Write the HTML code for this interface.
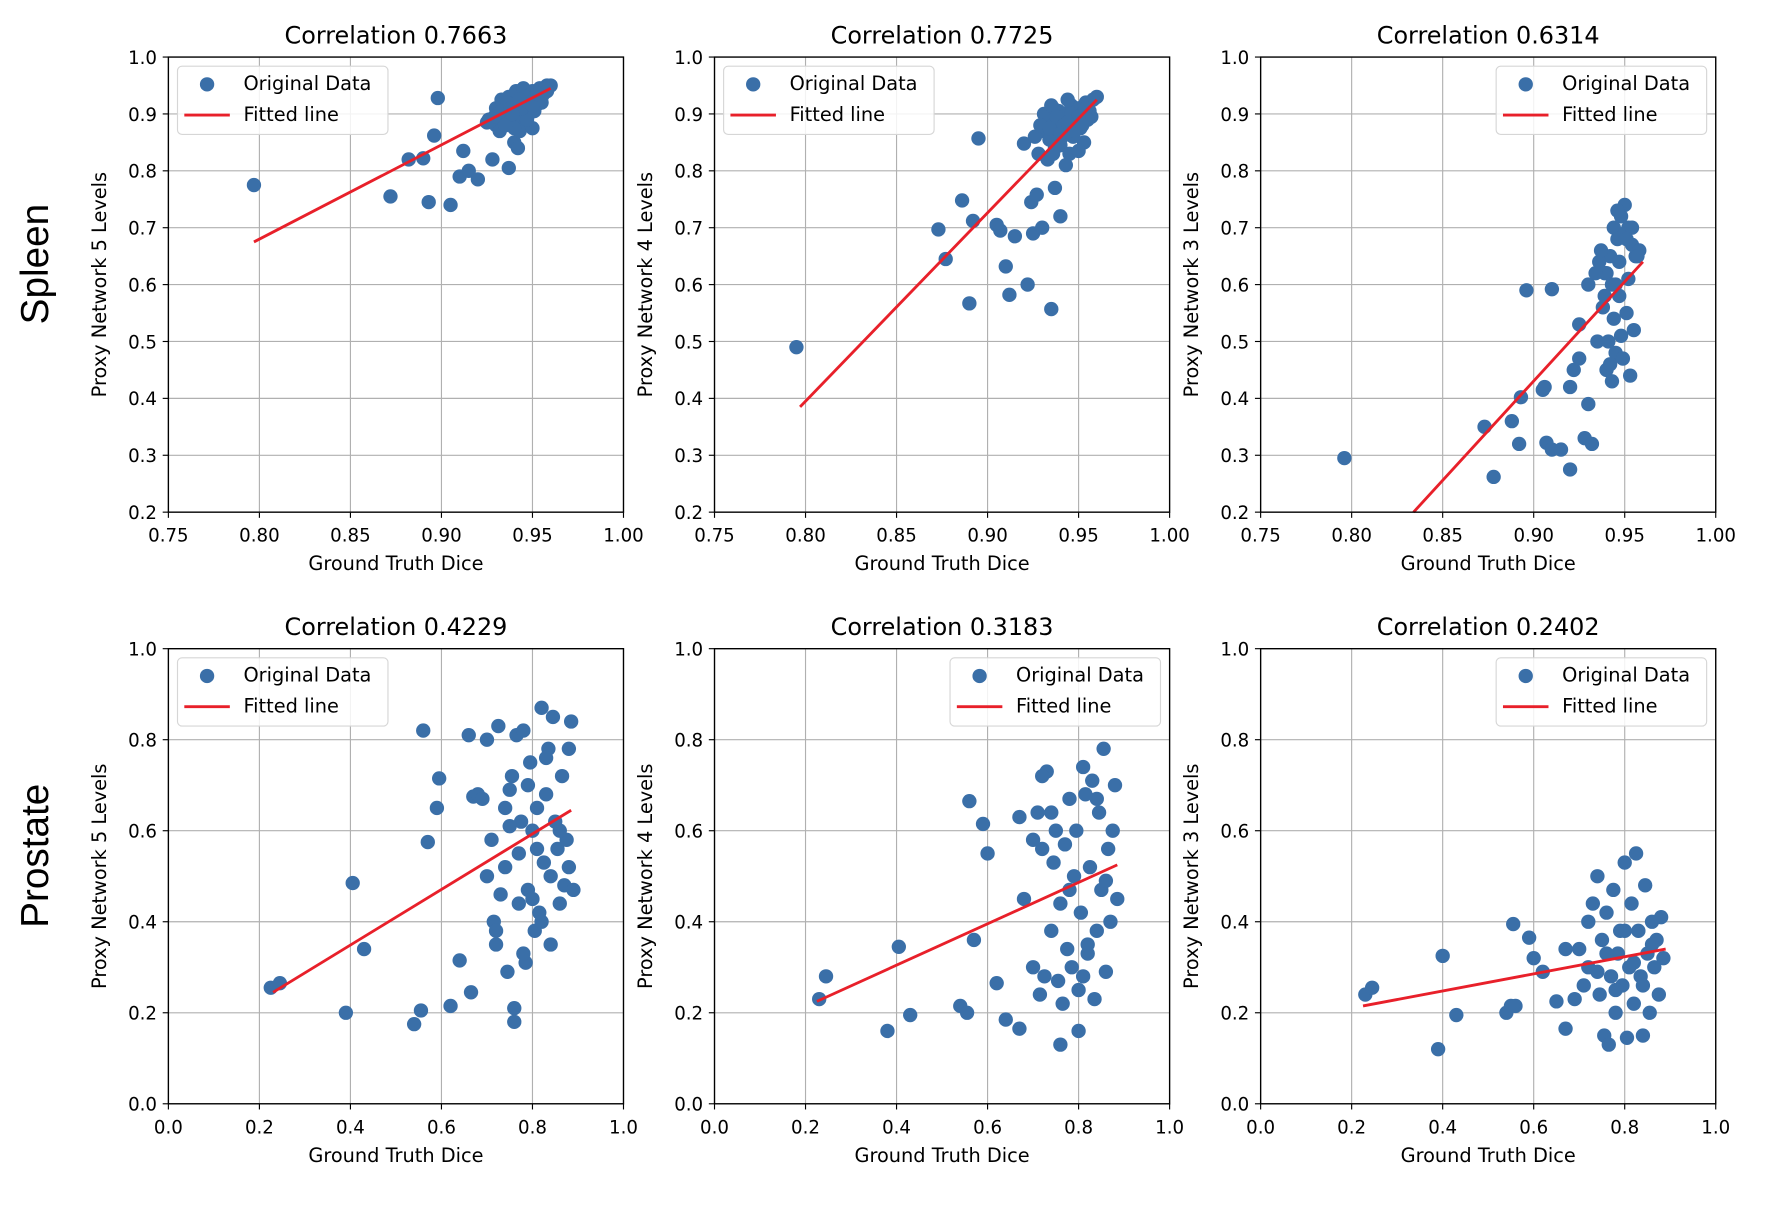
<!DOCTYPE html>
<html><head><meta charset="utf-8">
<style>
html,body{margin:0;padding:0;background:#fff;}
svg{display:block;font-family:"DejaVu Sans","Liberation Sans",sans-serif;}
</style></head>
<body>
<svg id="fig" width="1784" height="1220" viewBox="0 0 1568 1072" xmlns="http://www.w3.org/2000/svg">
<text x="0" y="0" transform="translate(42,232) rotate(-90)" font-size="34" text-anchor="middle" font-family="Liberation Sans, sans-serif">Spleen</text>
<text x="0" y="0" transform="translate(42,752) rotate(-90)" font-size="34" text-anchor="middle" font-family="Liberation Sans, sans-serif">Prostate</text>
</svg>
<script>
// ---- data ----
const titles = ["Correlation 0.7663","Correlation 0.7725","Correlation 0.6314","Correlation 0.4229","Correlation 0.3183","Correlation 0.2402"];
const yLabels = ["Proxy Network 5 Levels","Proxy Network 4 Levels","Proxy Network 3 Levels","Proxy Network 5 Levels","Proxy Network 4 Levels","Proxy Network 3 Levels"];
const spleenXTicks = ["0.75","0.80","0.85","0.90","0.95","1.00"];
const spleenYTicks = ["0.2","0.3","0.4","0.5","0.6","0.7","0.8","0.9","1.0"];
const prosXTicks = ["0.0","0.2","0.4","0.6","0.8","1.0"];
const prosYTicks = ["0.0","0.2","0.4","0.6","0.8","1.0"];
const legendRight = [false,false,true,false,true,true];

const p1x=[0.797,0.872,0.882,0.890,0.893,0.896,0.898,0.905,0.910,0.912,0.915,0.920,0.925,0.926,0.928,0.930,0.932,0.934,0.935,0.937,0.940,0.942,0.943,0.945,0.948,0.950,0.930,0.933,0.936,0.938,0.940,0.942,0.944,0.946,0.948,0.950,0.952,0.954,0.956,0.958,0.960,0.934,0.939,0.943,0.947,0.951,0.955,0.937,0.941,0.945,0.949,0.953,0.957,0.931,0.944,0.952,0.958,0.936,0.946,0.954,0.929,0.933,0.938,0.942,0.947,0.951,0.955,0.940,0.944,0.948,0.935,0.950,0.953,0.939,0.943];
const p1y=[0.775,0.755,0.820,0.822,0.745,0.862,0.928,0.740,0.790,0.835,0.800,0.785,0.885,0.890,0.820,0.880,0.870,0.905,0.895,0.805,0.850,0.840,0.870,0.880,0.900,0.875,0.910,0.925,0.900,0.915,0.930,0.905,0.920,0.935,0.925,0.940,0.930,0.945,0.935,0.950,0.950,0.890,0.885,0.915,0.910,0.925,0.920,0.930,0.940,0.945,0.935,0.940,0.945,0.900,0.895,0.915,0.940,0.920,0.930,0.925,0.895,0.905,0.910,0.900,0.890,0.905,0.930,0.875,0.910,0.920,0.880,0.915,0.935,0.900,0.925];
const p1fit=[[0.797,0.675],[0.960,0.945]];

const p2x=[0.795,0.873,0.877,0.886,0.890,0.892,0.895,0.905,0.907,0.910,0.912,0.915,0.920,0.922,0.924,0.925,0.927,0.930,0.935,0.937,0.940,0.928,0.930,0.932,0.934,0.936,0.938,0.940,0.942,0.944,0.946,0.948,0.950,0.952,0.954,0.956,0.958,0.960,0.933,0.937,0.941,0.945,0.949,0.953,0.957,0.931,0.939,0.947,0.955,0.943,0.951,0.935,0.926,0.944,0.950,0.929,0.934,0.938,0.942,0.946,0.950,0.954,0.940,0.944,0.948,0.936,0.952];
const p2y=[0.490,0.697,0.645,0.748,0.567,0.712,0.857,0.705,0.695,0.632,0.582,0.685,0.848,0.600,0.745,0.690,0.758,0.700,0.557,0.770,0.720,0.830,0.870,0.890,0.855,0.910,0.880,0.845,0.900,0.870,0.915,0.890,0.910,0.900,0.920,0.905,0.925,0.930,0.820,0.840,0.860,0.830,0.880,0.850,0.895,0.900,0.905,0.860,0.890,0.810,0.875,0.915,0.860,0.925,0.835,0.880,0.875,0.895,0.880,0.900,0.895,0.910,0.865,0.885,0.870,0.830,0.880];
const p2fit=[[0.797,0.385],[0.960,0.925]];

const p3x=[0.796,0.873,0.878,0.888,0.892,0.893,0.896,0.905,0.906,0.907,0.910,0.910,0.915,0.920,0.920,0.922,0.925,0.928,0.930,0.932,0.925,0.930,0.935,0.940,0.938,0.940,0.942,0.944,0.946,0.948,0.950,0.952,0.954,0.956,0.958,0.936,0.939,0.943,0.947,0.951,0.955,0.941,0.945,0.949,0.953,0.937,0.946,0.950,0.952,0.944,0.948,0.942,0.954,0.934,0.939,0.947,0.951,0.945,0.943,0.957];
const p3y=[0.295,0.350,0.262,0.360,0.320,0.402,0.590,0.415,0.420,0.322,0.310,0.592,0.310,0.275,0.420,0.450,0.470,0.330,0.390,0.320,0.530,0.600,0.500,0.450,0.560,0.620,0.650,0.700,0.680,0.720,0.740,0.700,0.670,0.650,0.660,0.640,0.620,0.600,0.580,0.550,0.520,0.500,0.480,0.470,0.440,0.660,0.730,0.690,0.610,0.540,0.510,0.460,0.700,0.620,0.580,0.640,0.680,0.600,0.430,0.650];
const p3fit=[[0.834,0.200],[0.960,0.640]];

const p4x=[0.225,0.245,0.390,0.405,0.430,0.540,0.555,0.560,0.570,0.590,0.595,0.620,0.640,0.660,0.665,0.670,0.680,0.690,0.700,0.710,0.715,0.720,0.725,0.730,0.740,0.745,0.750,0.755,0.760,0.765,0.770,0.775,0.780,0.785,0.790,0.795,0.800,0.805,0.810,0.815,0.820,0.825,0.830,0.835,0.840,0.845,0.850,0.855,0.860,0.865,0.870,0.875,0.880,0.885,0.890,0.720,0.750,0.790,0.810,0.830,0.770,0.740,0.860,0.800,0.760,0.700,0.840,0.880,0.780,0.820];
const p4y=[0.255,0.265,0.200,0.485,0.340,0.175,0.205,0.820,0.575,0.650,0.715,0.215,0.315,0.810,0.245,0.675,0.680,0.670,0.800,0.580,0.400,0.350,0.830,0.460,0.520,0.290,0.690,0.720,0.180,0.810,0.550,0.620,0.820,0.310,0.470,0.750,0.600,0.380,0.650,0.420,0.870,0.530,0.680,0.780,0.500,0.850,0.620,0.560,0.440,0.720,0.480,0.580,0.780,0.840,0.470,0.380,0.610,0.700,0.560,0.760,0.440,0.650,0.600,0.450,0.210,0.500,0.350,0.520,0.330,0.400];
const p4fit=[[0.230,0.245],[0.885,0.645]];

const p5x=[0.230,0.245,0.380,0.405,0.430,0.540,0.555,0.560,0.570,0.590,0.600,0.620,0.640,0.670,0.670,0.680,0.700,0.710,0.715,0.720,0.725,0.730,0.740,0.745,0.750,0.755,0.760,0.765,0.770,0.775,0.780,0.785,0.790,0.795,0.800,0.805,0.810,0.815,0.820,0.825,0.830,0.835,0.840,0.845,0.850,0.855,0.860,0.865,0.870,0.875,0.880,0.885,0.720,0.760,0.800,0.840,0.780,0.820,0.860,0.740,0.700,0.810];
const p5y=[0.230,0.280,0.160,0.345,0.195,0.215,0.200,0.665,0.360,0.615,0.550,0.265,0.185,0.165,0.630,0.450,0.300,0.640,0.240,0.560,0.280,0.730,0.380,0.530,0.600,0.270,0.440,0.220,0.570,0.340,0.670,0.300,0.500,0.600,0.160,0.420,0.280,0.680,0.350,0.520,0.710,0.230,0.380,0.640,0.470,0.780,0.290,0.560,0.400,0.600,0.700,0.450,0.720,0.130,0.250,0.670,0.470,0.330,0.490,0.640,0.580,0.740];
const p5fit=[[0.225,0.225],[0.885,0.525]];

const p6x=[0.230,0.245,0.390,0.400,0.430,0.540,0.550,0.555,0.560,0.590,0.600,0.620,0.650,0.670,0.670,0.690,0.700,0.710,0.720,0.730,0.740,0.745,0.750,0.755,0.760,0.765,0.770,0.775,0.780,0.785,0.790,0.795,0.800,0.805,0.810,0.815,0.820,0.825,0.830,0.835,0.840,0.845,0.850,0.855,0.860,0.865,0.870,0.875,0.880,0.885,0.760,0.800,0.840,0.720,0.780,0.820,0.860,0.740];
const p6y=[0.240,0.255,0.120,0.325,0.195,0.200,0.215,0.395,0.215,0.365,0.320,0.290,0.225,0.165,0.340,0.230,0.340,0.260,0.300,0.440,0.500,0.240,0.360,0.150,0.420,0.130,0.280,0.470,0.200,0.330,0.380,0.260,0.530,0.145,0.300,0.440,0.220,0.550,0.380,0.280,0.150,0.480,0.330,0.200,0.400,0.300,0.360,0.240,0.410,0.320,0.330,0.380,0.260,0.400,0.250,0.310,0.350,0.290];
const p6fit=[[0.225,0.215],[0.890,0.340]];

const allX=[p1x,p2x,p3x,p4x,p5x,p6x];
const allY=[p1y,p2y,p3y,p4y,p5y,p6y];
const allFit=[p1fit,p2fit,p3fit,p4fit,p5fit,p6fit];

// ---- drawing ----
const NS="http://www.w3.org/2000/svg";
const svg=document.getElementById('fig');
function mk(tag,attrs,parent){const e=document.createElementNS(NS,tag);for(const k in attrs)e.setAttribute(k,attrs[k]);(parent||svg).appendChild(e);return e;}
const lefts=[148,628,1108], tops=[50,570], W=400, H=400;

for(let i=0;i<6;i++){
  const L=lefts[i%3], T=tops[Math.floor(i/3)];
  const spleen=i<3;
  const xmin=spleen?0.75:0, xmax=1, ymin=spleen?0.2:0, ymax=1;
  const xT=spleen?spleenXTicks:prosXTicks, yT=spleen?spleenYTicks:prosYTicks;
  const sx=v=>L+(v-xmin)/(xmax-xmin)*W;
  const sy=v=>T+H-(v-ymin)/(ymax-ymin)*H;
  const g=mk('g',{});
  
  
  xT.forEach(t=>{const x=sx(parseFloat(t));
    const l=mk('line',{x1:x,x2:x,y1:T,y2:T+H,stroke:'#b0b0b0','stroke-width':1},g);
    
    
    const tk=mk('line',{x1:x,x2:x,y1:T+H,y2:T+H+5,stroke:'#000','stroke-width':1},g);
    
    
    const tx=mk('text',{x:x,y:T+H+26,'font-size':16,'text-anchor':'middle',fill:'#000'},g);tx.textContent=t;
    
    
  });
  yT.forEach(t=>{const y=sy(parseFloat(t));
    const l=mk('line',{x1:L,x2:L+W,y1:y,y2:y,stroke:'#b0b0b0','stroke-width':1},g);
    
    
    const tk=mk('line',{x1:L-5,x2:L,y1:y,y2:y,stroke:'#000','stroke-width':1},g);
    
    
    const tx=mk('text',{x:L-10,y:y+6,'font-size':16,'text-anchor':'end',fill:'#000'},g);tx.textContent=t;
    
    
  });
  const xs=allX[i], ys=allY[i];
  for(let k=0;k<xs.length;k++){
    const c=mk('circle',{cx:sx(xs[k]),cy:sy(ys[k]),r:6.3,fill:'#3a6fa8'},g);
    
    
  }
  const f=allFit[i];
  const fl=mk('line',{x1:sx(f[0][0]),y1:sy(f[0][1]),x2:sx(f[1][0]),y2:sy(f[1][1]),stroke:'#e8202a','stroke-width':2.5},g);
  
  
  const fr=mk('rect',{x:L,y:T,width:W,height:H,fill:'none',stroke:'#000','stroke-width':1.2},g);
  
  
  const ti=mk('text',{x:L+W/2,y:T-12,'font-size':21,'text-anchor':'middle',fill:'#000'},g);ti.textContent=titles[i];
  
  
  const xl=mk('text',{x:L+W/2,y:T+H+51,'font-size':17,'text-anchor':'middle',fill:'#000'},g);xl.textContent='Ground Truth Dice';
  
  
  const yl=mk('text',{x:0,y:0,transform:`translate(${L-55},${T+H/2}) rotate(-90)`,'font-size':17,'text-anchor':'middle',fill:'#000'},g);yl.textContent=yLabels[i];
  
  
  const lx=legendRight[i]?L+W-193:L+8, ly=T+8;
  const lg=mk('g',{},g);
  
  
  mk('rect',{x:lx,y:ly,width:185,height:60,rx:4,fill:'#fff','fill-opacity':0.85,stroke:'#d6d6d6','stroke-width':1},lg);
  const lc=mk('circle',{cx:lx+26,cy:ly+16,r:6.3,fill:'#3a6fa8'},lg);
  
  
  const t1=mk('text',{x:lx+58,y:ly+21,'font-size':17,fill:'#000'},lg);t1.textContent='Original Data';
  
  
  const ll=mk('line',{x1:lx+6,x2:lx+46,y1:ly+43,y2:ly+43,stroke:'#e8202a','stroke-width':2.5},lg);
  
  
  const t2=mk('text',{x:lx+58,y:ly+48,'font-size':17,fill:'#000'},lg);t2.textContent='Fitted line';
  
  
}
</script>
</body></html>
